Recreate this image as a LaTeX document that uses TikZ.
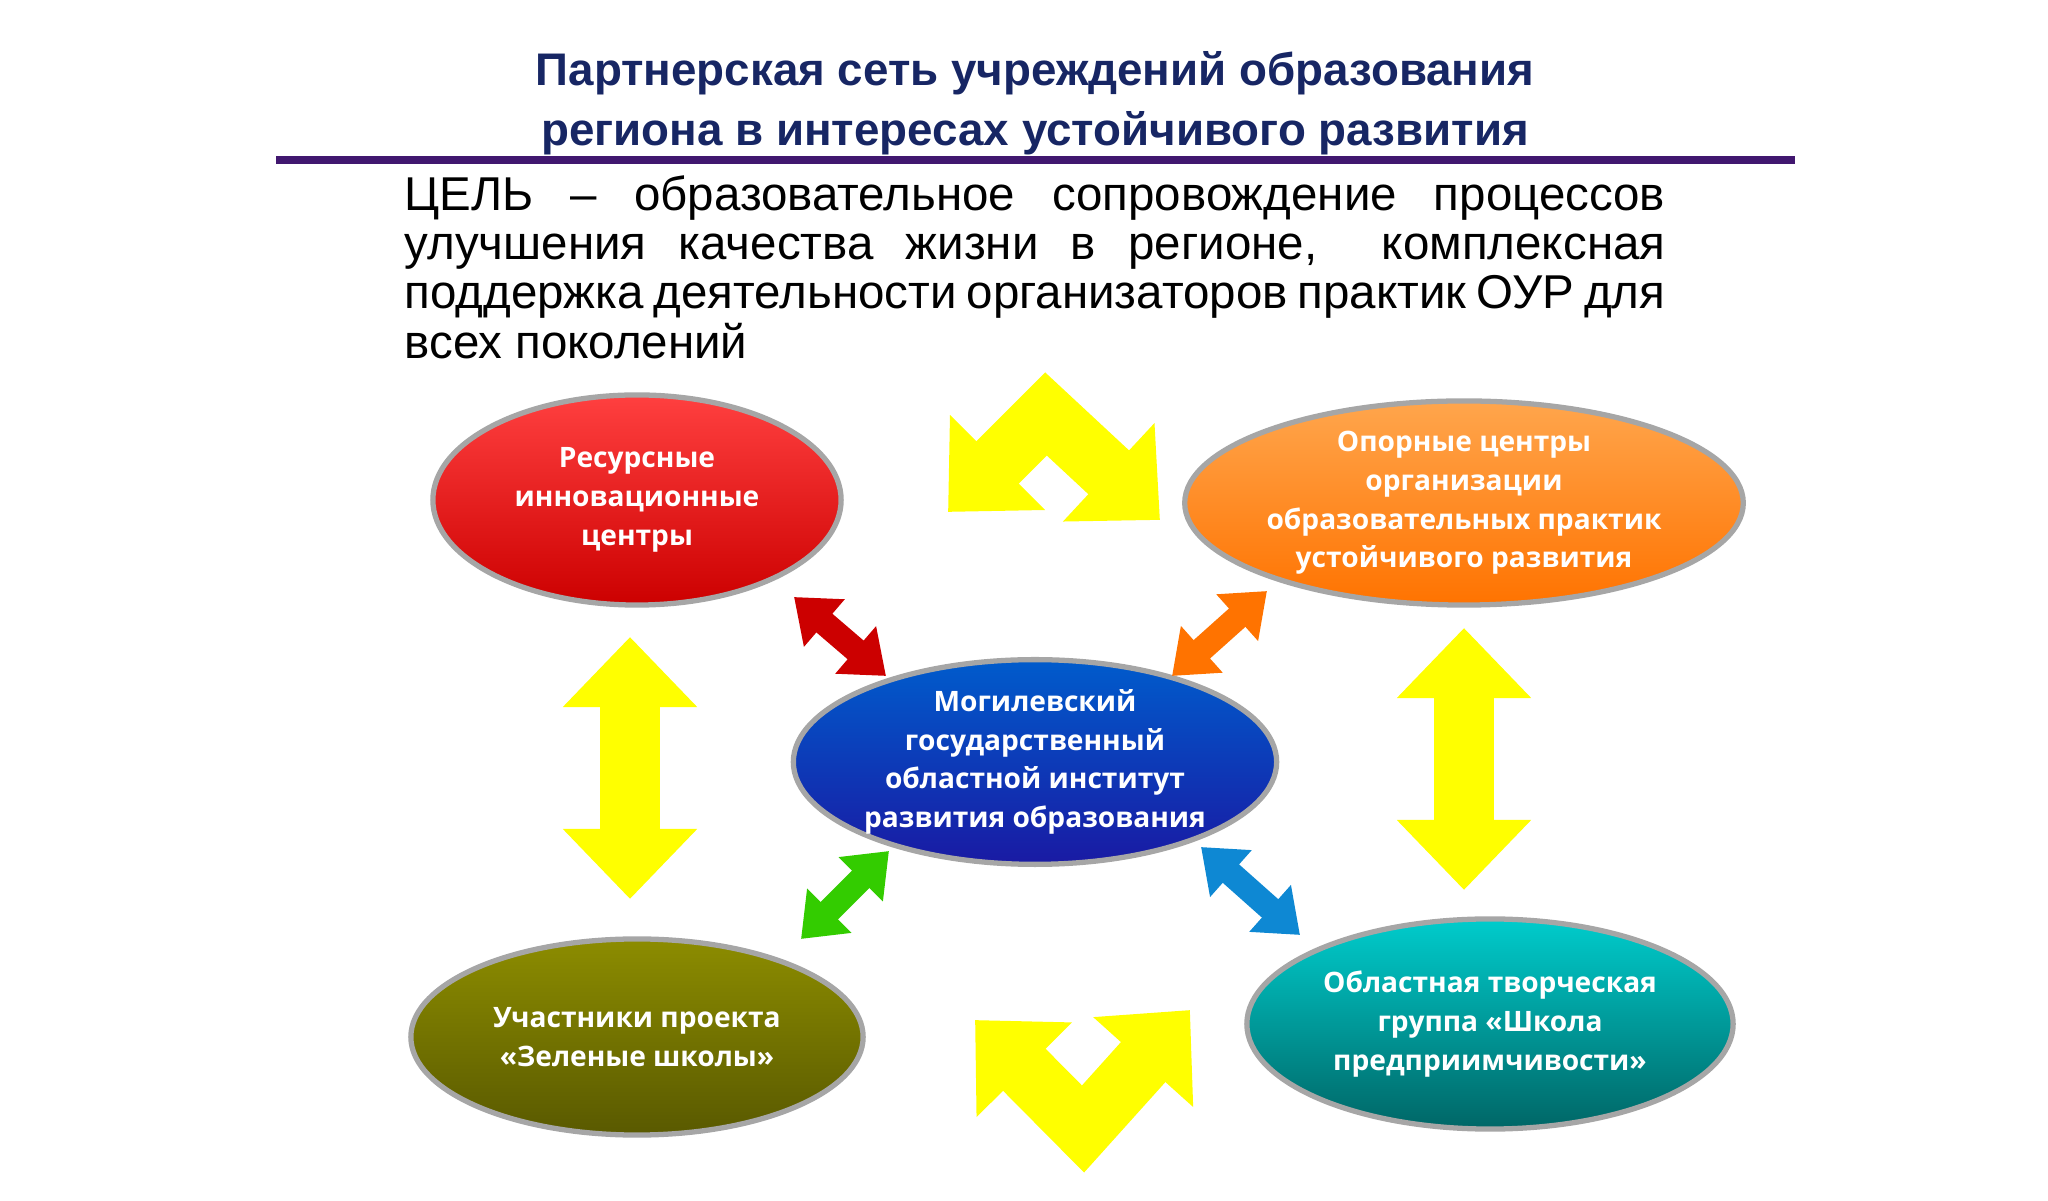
\documentclass[tikz,border=0pt]{standalone}
\usepackage{fontspec}
\setmainfont{Liberation Sans}
\newfontfamily\boxfont{Open Sans}
\usetikzlibrary{arrows.meta,shapes.geometric}

\definecolor{navy}{RGB}{23,38,100}
\definecolor{arrowyellow}{RGB}{255,255,0}

\begin{document}
\begin{tikzpicture}[x=0.01cm, y=-0.01cm]
  \tikzset{every node/.style={inner sep=0pt}}
  \tikzset{blob/.style={ellipse, draw=black!35, line width=1.5pt, text=white, align=center, font=\boxfont\bfseries\fontsize{8}{11}\selectfont}}
  \tikzset{bigarrow/.style={draw=arrowyellow, line width=17pt, line join=miter, {Triangle[width=1.3cm,length=0.7cm]}-{Triangle[width=1.3cm,length=0.7cm]}}}
  \tikzset{smallarrow/.style={line width=7pt, {Triangle[width=0.6cm,length=0.4cm]}-{Triangle[width=0.6cm,length=0.4cm]}}}
  \useasboundingbox (0,0) rectangle (2048,1201);

  % heading
  \node[font=\bfseries\fontsize{13}{17}\selectfont, text=navy, align=center] (title) at (1035,103)
    {Партнерская сеть учреждений образования\\региона в интересах устойчивого развития};
  \coordinate (ruleA) at (276,160);
  \coordinate (ruleB) at (1795,160);
  \draw[line width=2pt, draw=navy!60!violet] (ruleA) -- (ruleB);
  \node[text width=12.6cm, align=justify, font=\fontsize{13.5}{14}\selectfont] (goal) at (1035,267)
    {ЦЕЛЬ – образовательное сопровождение процессов улучшения качества жизни в регионе,\ \ комплексная поддержка деятельности организаторов практик ОУР для всех поколений\hfill\null};

  % centres
  \node[blob, minimum width=4.08cm, minimum height=2.1cm, top color=red!75, bottom color=red!80!black] (res) at (637,500)
    {Ресурсные\\инновационные\\центры};
  \node[blob, minimum width=4.94cm, minimum height=2.04cm, top color=orange!70, bottom color=orange!90!red] (opor) at (1464,503)
    {Опорные центры\\организации\\образовательных практик\\устойчивого развития};
  \node[blob, minimum width=4.28cm, minimum height=1.9cm, top color=blue!55!cyan!80!black, bottom color=blue!60!black!90] (inst) at (1035,762)
    {Могилевский\\государственный\\областной институт\\развития образования};
  \node[blob, minimum width=4.52cm, minimum height=1.96cm, top color=olive!90, bottom color=olive!70!black] (green) at (637,1037)
    {Участники проекта\\«Зеленые школы»};
  \node[blob, minimum width=4.86cm, minimum height=2.1cm, top color=cyan!60!teal, bottom color=teal!80!black] (school) at (1490,1024)
    {Областная творческая\\группа «Школа\\предприимчивости»};

  % yellow arrows
  \coordinate (topL) at (948,512);
  \coordinate (topM) at (1046,414);
  \coordinate (topR) at (1160,520);
  \coordinate (botL) at (975,1020);
  \coordinate (botM) at (1083,1129);
  \coordinate (botR) at (1190,1010);
  \coordinate (leftT) at (630,637);
  \coordinate (leftB) at (630,899);
  \coordinate (rightT) at (1464,628);
  \coordinate (rightB) at (1464,890);
  \draw[bigarrow] (topL) -- (topM) -- (topR);
  \draw[bigarrow] (botL) -- (botM) -- (botR);
  \draw[bigarrow] (leftT) -- (leftB);
  \draw[bigarrow] (rightT) -- (rightB);

  % small arrows
  \coordinate (redA) at (794,597);
  \coordinate (redB) at (886,676);
  \coordinate (orA) at (1267,591);
  \coordinate (orB) at (1172,676);
  \coordinate (grA) at (889,851);
  \coordinate (grB) at (801,939);
  \coordinate (cyA) at (1201,847);
  \coordinate (cyB) at (1300,935);
  \draw[smallarrow, draw=red!80!black] (redA) -- (redB);
  \draw[smallarrow, draw=orange!90!red] (orA) -- (orB);
  \draw[smallarrow, draw=green!60!olive] (grA) -- (grB);
  \draw[smallarrow, draw=cyan!70!blue] (cyA) -- (cyB);
\end{tikzpicture}
\end{document}
